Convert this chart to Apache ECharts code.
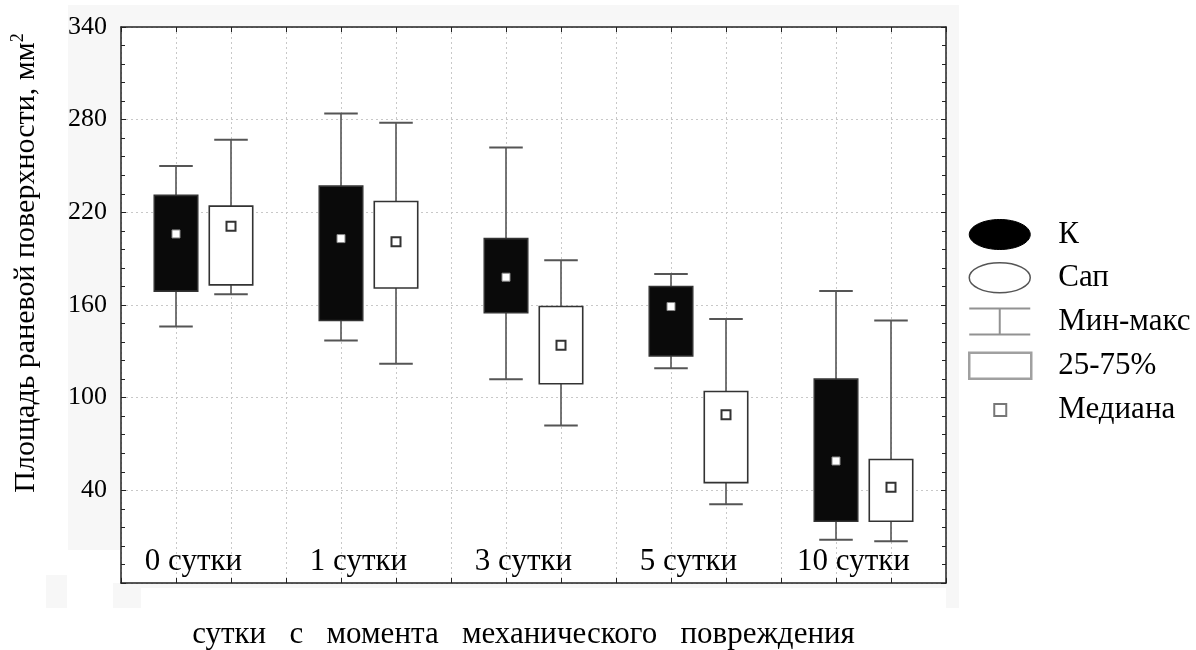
<!DOCTYPE html>
<html>
<head>
<meta charset="utf-8">
<script src="https://cdn.jsdelivr.net/npm/echarts@6/dist/echarts.min.js"></script>
<style>
html,body{margin:0;padding:0;background:#fff;}
#chart{width:1196px;height:650px;}
</style>
</head>
<body>
<div id="chart"></div>
<script>
// ---- data ----
const categories = ['0 сутки', '1 сутки', '3 сутки', '5 сутки', '10 сутки'];
// group "К"
const kMin = [146, 137, 112, 119, 8];
const kQ1  = [169, 150, 155, 127, 20];
const kMed = [206, 203, 178, 159, 59];
const kQ3  = [231, 237, 203, 172, 112];
const kMax = [250, 284, 262, 180, 169];
// group "Сап"
const sMin = [167, 122, 82, 31, 7];
const sQ1  = [173, 171, 109, 45, 20];
const sMed = [211, 201, 134, 89, 42];
const sQ3  = [224, 227, 159, 104, 60];
const sMax = [267, 278, 189, 151, 150];
const yTicks = [40, 100, 160, 220, 280, 340];

const SERIF = '"Liberation Serif","Times New Roman",serif';

function build(mins, q1s, meds, q3s, maxs, offset) {
  return categories.map((c, i) => [1 + 3 * i + offset, mins[i], q1s[i], meds[i], q3s[i], maxs[i]]);
}

function makeRender(dark) {
  return function (params, api) {
    const x = api.value(0);
    const pMin = api.coord([x, api.value(1)]);
    const pQ1 = api.coord([x, api.value(2)]);
    const pMed = api.coord([x, api.value(3)]);
    const pQ3 = api.coord([x, api.value(4)]);
    const pMax = api.coord([x, api.value(5)]);
    const unit = api.size([1, 0])[0];
    const boxW = unit * 0.79;
    const capW = unit * 0.61;
    const cx = pMin[0];
    const wStyle = { stroke: '#555', lineWidth: 1.6 };
    const sq = dark ? 8 : 9;
    return {
      type: 'group',
      children: [
        { type: 'line', shape: { x1: cx, y1: pMax[1], x2: cx, y2: pQ3[1] }, style: wStyle },
        { type: 'line', shape: { x1: cx, y1: pQ1[1], x2: cx, y2: pMin[1] }, style: wStyle },
        { type: 'line', shape: { x1: cx - capW / 2, y1: pMax[1], x2: cx + capW / 2, y2: pMax[1] }, style: { stroke: '#555', lineWidth: 2 } },
        { type: 'line', shape: { x1: cx - capW / 2, y1: pMin[1], x2: cx + capW / 2, y2: pMin[1] }, style: { stroke: '#555', lineWidth: 2 } },
        { type: 'rect', shape: { x: cx - boxW / 2, y: pQ3[1], width: boxW, height: pQ1[1] - pQ3[1] },
          style: { fill: dark ? '#0a0a0a' : '#fff', stroke: '#333', lineWidth: 1.6 } },
        { type: 'rect', shape: { x: cx - sq / 2, y: pMed[1] - sq / 2, width: sq, height: sq },
          style: { fill: '#fff', stroke: dark ? '#888' : '#333', lineWidth: dark ? 1 : 2 } }
      ]
    };
  };
}

const ellipse = 'path://M0,0 M84,30 M0,15 C0,6.7 13.7,0 30.5,0 C47.3,0 61,6.7 61,15 C61,23.3 47.3,30 30.5,30 C13.7,30 0,23.3 0,15 Z';
const whisk = 'path://M0,0 M84,30 M0,2 L61,2 M30.5,2 L30.5,28 M0,28 L61,28';
const boxIcon = 'path://M0,0 M84,30 M0,2 L62,2 L62,28 L0,28 Z';
const medIcon = 'path://M0,0 M84,30 M25,9 L37,9 L37,21 L25,21 Z';

const chart = echarts.init(document.getElementById('chart'), null, { renderer: 'canvas' });
const G = '#f7f7f7';
chart.setOption({
  backgroundColor: '#fff',
  animation: false,
  graphic: [
    { type: 'rect', z: -10, silent: true, shape: { x: 68, y: 5, width: 891, height: 22 }, style: { fill: G } },
    { type: 'rect', z: -10, silent: true, shape: { x: 68, y: 5, width: 53, height: 545 }, style: { fill: G } },
    { type: 'rect', z: -10, silent: true, shape: { x: 946, y: 5, width: 13, height: 603 }, style: { fill: G } },
    { type: 'rect', z: -10, silent: true, shape: { x: 141, y: 583, width: 805, height: 5 }, style: { fill: G } },
    { type: 'rect', z: -10, silent: true, shape: { x: 46, y: 575, width: 21, height: 33 }, style: { fill: G } },
    { type: 'rect', z: -10, silent: true, shape: { x: 113, y: 583, width: 28, height: 25 }, style: { fill: G } }
  ],
  grid: { left: 121, top: 27, right: 250, bottom: 67, show: true, backgroundColor: '#fff', borderWidth: 0,
          containLabel: false, outerBoundsMode: 'none' },
  legend: {
    orient: 'vertical', left: 968, top: 219, padding: 0, itemWidth: 84, itemHeight: 30, itemGap: 12,
    selectedMode: false,
    textStyle: { fontFamily: SERIF, fontSize: 31, color: '#000' },
    data: [
      { name: 'К', icon: ellipse, itemStyle: { color: '#000', borderColor: '#000', borderWidth: 1 } },
      { name: 'Сап', icon: ellipse, itemStyle: { color: '#fff', borderColor: '#555', borderWidth: 1.5 } },
      { name: 'Мин-макс', icon: whisk, itemStyle: { color: 'transparent', borderColor: '#777', borderWidth: 2 } },
      { name: '25-75%', icon: boxIcon, itemStyle: { color: '#fff', borderColor: '#888', borderWidth: 2.5 } },
      { name: 'Медиана', icon: medIcon, itemStyle: { color: '#fff', borderColor: '#555', borderWidth: 2 } }
    ]
  },
  xAxis: [
    {
      type: 'value', min: 0, max: 15, interval: 1, position: 'bottom',
      axisLine: { show: true, onZero: false, lineStyle: { color: '#222', width: 1.5 } },
      axisTick: { show: true, inside: true, length: 5, lineStyle: { color: '#222' } },
      axisLabel: { show: false },
      splitLine: { show: true, lineStyle: { color: '#c8c8c8', type: [2, 3], width: 1 } },
      name: 'сутки   с   момента   механического   повреждения',
      nameLocation: 'middle', nameGap: 36,
      nameTextStyle: { fontFamily: SERIF, fontSize: 31, color: '#000', padding: [0, 20, 0, 0] }
    },
    {
      type: 'value', min: 0, max: 15, interval: 1, position: 'top',
      axisLine: { show: true, onZero: false, lineStyle: { color: '#222', width: 1.5 } },
      axisTick: { show: true, inside: true, length: 5, lineStyle: { color: '#222' } },
      axisLabel: { show: false }, splitLine: { show: false }
    },
    {
      type: 'category', data: categories, position: 'bottom',
      axisLine: { show: false }, axisTick: { show: false }, splitLine: { show: false },
      axisLabel: { show: true, inside: true, margin: 6, fontFamily: SERIF, fontSize: 31, color: '#000', padding: [0, 20, 0, 0] }
    }
  ],
  yAxis: [
    {
      type: 'value', min: -20, max: 340, interval: 60, position: 'left',
      axisLine: { show: true, onZero: false, lineStyle: { color: '#222', width: 1.5 } },
      axisTick: { show: true, inside: true, length: 5, lineStyle: { color: '#222' } },
      minorTick: { show: true, splitNumber: 5, length: 4, lineStyle: { color: '#222' } },
      axisLabel: {
        margin: 14, fontFamily: SERIF, fontSize: 26, color: '#000',
        formatter: v => (yTicks.indexOf(v) >= 0 ? String(v) : '')
      },
      splitLine: { show: true, lineStyle: { color: '#c8c8c8', type: [2, 3], width: 1 } },
      name: '{a|Площадь раневой поверхности, мм}{s|2}',
      nameLocation: 'middle', nameRotate: 90, nameGap: 78,
      nameTextStyle: {
        padding: [0, 0, 0, 84],
        rich: {
          a: { fontFamily: SERIF, fontSize: 30, color: '#000' },
          s: { fontFamily: SERIF, fontSize: 18, color: '#000', padding: [0, 0, 16, 0] }
        }
      }
    },
    {
      type: 'value', min: -20, max: 340, interval: 60, position: 'right',
      axisLine: { show: true, onZero: false, lineStyle: { color: '#222', width: 1.5 } },
      axisTick: { show: true, inside: true, length: 5, lineStyle: { color: '#222' } },
      minorTick: { show: true, splitNumber: 5, length: 4, lineStyle: { color: '#222' } },
      axisLabel: { show: false }, splitLine: { show: false }
    }
  ],
  series: [
    { name: 'К', type: 'custom', xAxisIndex: 0, yAxisIndex: 0, renderItem: makeRender(true),
      encode: { x: 0, y: [1, 2, 3, 4, 5] }, data: build(kMin, kQ1, kMed, kQ3, kMax, 0), z: 5 },
    { name: 'Сап', type: 'custom', xAxisIndex: 0, yAxisIndex: 0, renderItem: makeRender(false),
      encode: { x: 0, y: [1, 2, 3, 4, 5] }, data: build(sMin, sQ1, sMed, sQ3, sMax, 1), z: 5 },
    { name: 'Мин-макс', type: 'scatter', data: [] },
    { name: '25-75%', type: 'scatter', data: [] },
    { name: 'Медиана', type: 'scatter', data: [] }
  ]
});
</script>
</body>
</html>
